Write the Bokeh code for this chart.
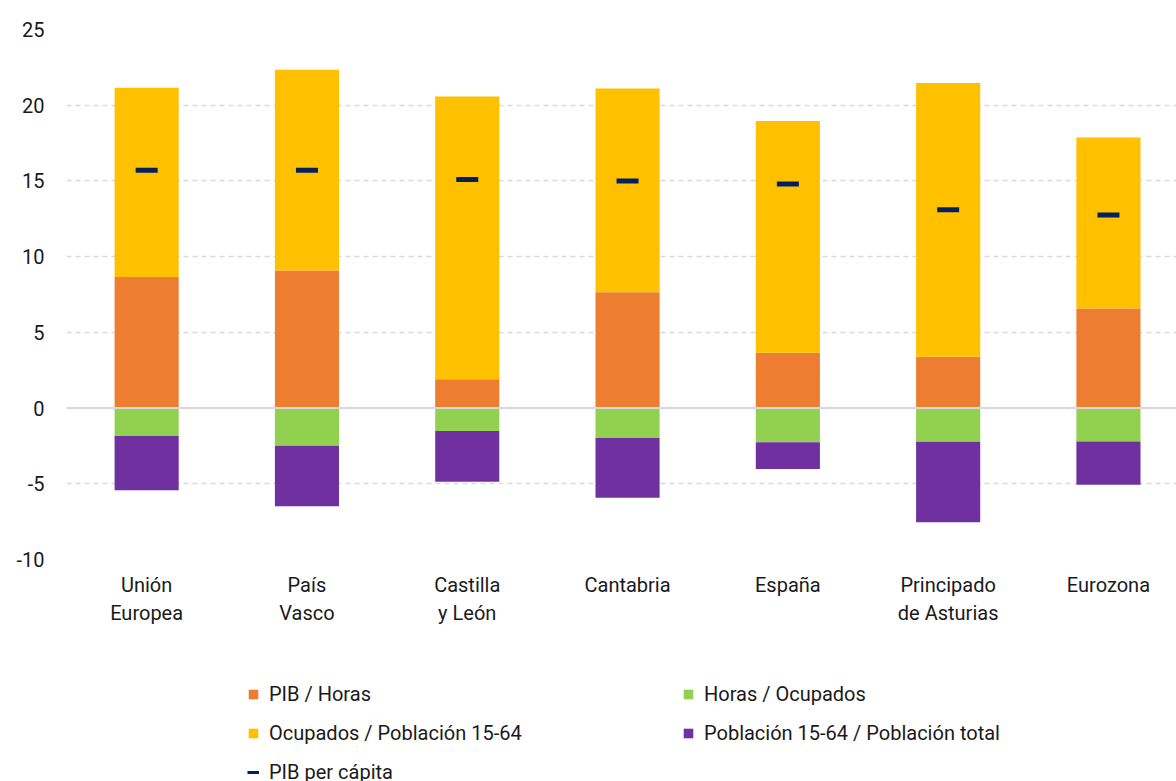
from bokeh.plotting import figure
from bokeh.models import Legend, LegendItem, Span, ColumnDataSource, Range1d, FixedTicker
from bokeh.layouts import column
from bokeh.embed import file_html
from bokeh.resources import INLINE

categories = ["Unión\nEuropea", "País\nVasco", "Castilla\ny León", "Cantabria", "España",
              "Principado\nde Asturias", "Eurozona"]
pib_horas = [8.66, 9.09, 1.90, 7.65, 3.66, 3.39, 6.57]
ocupados_pob = [12.50, 13.26, 18.67, 13.45, 15.30, 18.08, 11.29]
horas_ocupados = [-1.85, -2.48, -1.52, -1.98, -2.25, -2.23, -2.20]
pob_total = [-3.57, -4.00, -3.35, -3.95, -1.78, -5.31, -2.87]
pib_pc = [15.70, 15.70, 15.10, 15.00, 14.80, 13.10, 12.75]
y_ticks = [-10, -5, 0, 5, 10, 15, 20, 25]

C_ORANGE = "#ED7D31"
C_YELLOW = "#FFC000"
C_GREEN = "#92D050"
C_PURPLE = "#7030A0"
C_NAVY = "#002060"
FONT = "Roboto"
TXT = "#1a1a1a"

xs = list(range(len(categories)))
src = ColumnDataSource(dict(x=xs, pib_horas=pib_horas, ocupados_pob=ocupados_pob,
                            horas_ocupados=horas_ocupados, pob_total=pob_total, pib_pc=pib_pc))

# frame: 1110 px wide, one category every ~160.3 px
p = figure(x_range=Range1d(-0.5, -0.5 + 1110 / 160.3), y_range=Range1d(-10, 25),
           width=1176, height=640, output_backend="svg", toolbar_location=None,
           min_border_left=66, min_border_right=0, min_border_top=29, min_border_bottom=81)

pos = p.vbar_stack(["pib_horas", "ocupados_pob"], x="x", width=0.4, source=src,
                   color=[C_ORANGE, C_YELLOW], line_color=None)
neg = p.vbar_stack(["horas_ocupados", "pob_total"], x="x", width=0.4, source=src,
                   color=[C_GREEN, C_PURPLE], line_color=None)
pc = p.scatter(x="x", y="pib_pc", source=src, marker="dash", size=22, line_width=5,
               line_color=C_NAVY, fill_color=C_NAVY)

p.add_layout(Span(location=0, dimension="width", line_color="#d9d9d9", line_width=2))

p.outline_line_color = None
p.xgrid.grid_line_color = None
p.ygrid.grid_line_color = "#d9d9d9"
p.ygrid.grid_line_dash = "5 4"
p.ygrid.grid_line_width = 1.5

p.yaxis.ticker = FixedTicker(ticks=y_ticks)
p.yaxis.major_label_overrides = {t: str(t) for t in y_ticks}
p.yaxis.axis_line_color = None
p.yaxis.major_tick_line_color = None
p.yaxis.minor_tick_line_color = None
p.yaxis.major_label_standoff = 16
p.yaxis.major_label_text_font = FONT
p.yaxis.major_label_text_font_size = "20px"
p.yaxis.major_label_text_color = TXT

p.xaxis.ticker = FixedTicker(ticks=xs)
p.xaxis.major_label_overrides = {i: c for i, c in zip(xs, categories)}
p.xaxis.axis_line_color = None
p.xaxis.major_tick_line_color = None
p.xaxis.minor_tick_line_color = None
p.xaxis.major_label_standoff = 7
p.xaxis.major_label_text_font = FONT
p.xaxis.major_label_text_font_size = "20px"
p.xaxis.major_label_text_color = TXT

# legend-only figure below the chart (its renderers lie outside its ranges)
lg = figure(x_range=Range1d(0, 1), y_range=Range1d(0, 1), width=1176, height=141,
            output_backend="svg", toolbar_location=None, x_axis_location=None,
            y_axis_location=None, min_border_left=66, min_border_right=0,
            min_border_top=0, min_border_bottom=0)
lg.outline_line_color = None
lg.grid.visible = False
r_or = lg.vbar(x=[5], top=[5], width=0.1, color=C_ORANGE, line_color=None)
r_ye = lg.vbar(x=[5], top=[5], width=0.1, color=C_YELLOW, line_color=None)
r_gr = lg.vbar(x=[5], top=[5], width=0.1, color=C_GREEN, line_color=None)
r_pu = lg.vbar(x=[5], top=[5], width=0.1, color=C_PURPLE, line_color=None)
r_pc = lg.line(x=[5, 6], y=[5, 5], line_width=3, line_color=C_NAVY)

items = [
    LegendItem(label="PIB / Horas", renderers=[r_or]),
    LegendItem(label="Ocupados / Población 15-64", renderers=[r_ye]),
    LegendItem(label="PIB per cápita", renderers=[r_pc]),
    LegendItem(label="Horas / Ocupados", renderers=[r_gr]),
    LegendItem(label="Población 15-64 / Población total", renderers=[r_pu]),
]
legend = Legend(items=items, location=(181, -3), ncols=2, orientation="vertical",
                glyph_width=12, glyph_height=12, label_standoff=10, label_width=398,
                spacing=15, padding=0, margin=0, border_line_color=None,
                background_fill_alpha=0, label_text_font=FONT, label_text_font_size="20px",
                label_text_color=TXT, label_height=20)
lg.add_layout(legend, "center")

open("out.html", "w").write(file_html(column(p, lg, spacing=0), INLINE))
